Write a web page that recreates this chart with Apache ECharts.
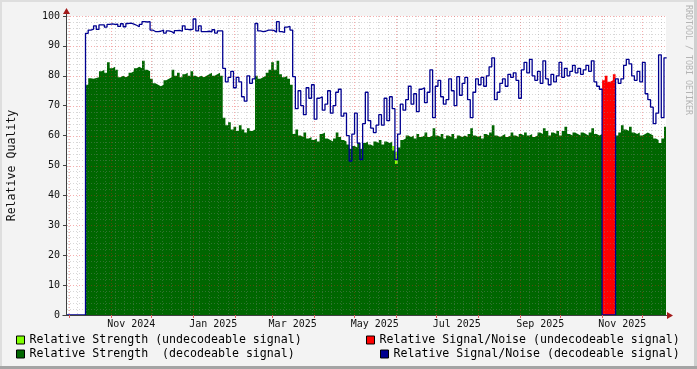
<!DOCTYPE html>
<html><head><meta charset="utf-8">
<script src="https://cdn.jsdelivr.net/npm/echarts@6/dist/echarts.min.js"></script>
<style>html,body{margin:0;padding:0;background:#f3f3f3;}#c{width:697px;height:369px;}</style>
</head><body><div id="c"></div>
<script>
// ---------------- data ----------------
const axisStart = '2024-09-28T12:00:00Z';
const axisEnd   = '2025-12-18T12:00:00Z';
const dataStart = '2024-10-13T00:00:00Z';
const stepDays = 2;
const snBeforeData = 0;

// Relative Signal/Noise (decodeable signal), one value per 2 days from dataStart
const snDecodeable = [
 94.2,95.3,95.6,96.7,95.5,97.0,97.0,96.3,97.2,97.4,
 97.2,97.3,96.5,97.4,96.4,97.5,97.6,97.3,96.9,96.4,
 97.2,98.1,98.0,98.1,95.3,94.8,94.8,94.9,95.3,94.3,
 95.0,94.8,94.2,95.1,95.2,94.9,96.7,95.5,95.4,95.6,
 99.0,95.0,96.7,94.8,94.8,94.9,94.7,95.4,94.3,95.0,
 95.0,82.5,78.0,79.5,81.5,76.0,79.5,78.0,73.0,71.5,
 80.0,77.5,79.0,97.5,95.0,94.8,94.9,95.3,95.3,95.2,
 94.6,98.1,94.8,94.5,96.3,96.5,95.3,79.7,69.0,75.0,
 70.0,67.0,76.0,72.5,77.0,65.5,72.5,73.0,68.5,70.5,
 75.0,67.5,70.0,74.5,75.5,66.5,67.5,60.0,51.5,60.5,
 67.5,57.5,52.0,64.0,74.5,65.0,62.5,61.0,63.5,67.0,
 63.5,72.5,65.0,73.0,69.0,52.0,60.5,70.5,68.5,72.0,
 76.5,70.5,74.0,68.0,75.5,76.0,71.0,74.5,82.0,66.0,
 76.5,78.5,73.0,70.5,72.0,79.0,75.0,70.0,79.7,73.5,
 77.5,79.5,72.0,66.0,74.5,79.0,77.0,79.5,76.5,80.0,
 83.0,86.0,72.0,74.5,77.5,79.0,76.5,80.5,79.5,81.0,
 78.5,72.5,82.0,84.5,81.0,85.5,80.0,78.5,81.5,77.5,
 85.0,79.0,77.0,80.5,78.0,80.0,84.5,79.5,82.5,80.0,
 81.5,83.5,81.0,82.5,80.5,82.0,83.5,81.5,85.0,78.0,
 76.5,75.5,0,0,0,0,0,79.0,77.5,79.0,
 83.5,85.5,84.0,80.0,78.5,81.5,78.0,84.5,74.0,72.0,
 69.5,64.0,67.5,87.0,66.0,86.0
];

// Relative Strength (decodeable signal), same time base
const strengthDecodeable = [
 77.0,79.2,79.0,79.3,79.5,81.5,82.0,81.0,84.5,82.5,
 83.0,82.0,79.5,80.0,79.5,80.0,81.0,81.5,82.5,83.0,
 82.5,85.0,82.0,81.5,79.0,77.5,77.0,76.5,77.0,78.5,
 79.0,79.5,82.0,80.0,81.0,79.5,80.5,81.0,80.0,81.5,
 80.0,79.5,80.0,79.5,80.0,80.5,81.0,80.0,80.5,81.0,
 80.0,66.0,63.5,64.5,62.0,63.0,61.5,63.5,62.0,61.0,
 62.5,61.5,62.0,80.0,79.0,79.5,80.0,81.0,82.0,84.5,
 82.0,85.0,80.5,79.5,80.0,79.0,77.0,60.5,62.0,60.0,
 59.5,61.0,59.0,59.5,58.5,59.0,58.0,60.5,61.0,59.0,
 58.5,58.0,59.0,61.0,59.5,58.5,58.0,57.0,55.5,56.5,
 56.0,57.5,55.5,57.5,58.0,57.0,56.5,58.0,57.5,58.5,
 57.0,58.0,57.5,58.0,55.0,50.5,56.0,58.5,59.0,60.0,
 59.5,60.0,59.0,60.5,59.5,60.0,61.0,59.5,60.0,62.5,
 60.0,59.5,60.5,59.0,60.0,59.5,60.5,59.0,60.0,59.5,
 60.0,59.5,60.5,62.5,60.0,59.5,60.0,59.0,60.5,60.0,
 61.0,63.5,60.0,59.5,60.0,60.5,59.5,60.0,61.0,60.0,
 59.5,60.5,60.0,61.0,60.0,60.5,59.5,60.0,61.0,60.5,
 62.5,61.5,60.0,61.0,60.5,61.5,60.0,61.5,63.0,60.5,
 60.0,61.0,60.5,60.0,61.0,60.5,60.0,61.0,62.5,60.5,
 60.0,60.5,0,0,0,0,0,60.0,61.0,63.5,
 62.0,61.5,63.0,61.0,60.5,61.0,60.0,60.5,61.0,60.5,
 60.0,59.0,58.5,57.5,59.0,63.0
];

// Relative Signal/Noise (undecodeable signal)
const snUndecodeableStart = '2025-11-01T00:00:00Z';
const snUndecodeable = [78.5, 80.0, 78.0, 78.5, 80.5];

// Relative Strength (undecodeable signal)
const strengthUndecodeableStart = '2025-05-29T00:00:00Z';
const strengthUndecodeable = [56.5, 54.5];

// tick labels
const xLabels = ['Nov 2024','Jan 2025','Mar 2025','May 2025','Jul 2025','Sep 2025','Nov 2025'];
const xLabelMonths = ['2024-11-01','2025-01-01','2025-03-01','2025-05-01','2025-07-01','2025-09-01','2025-11-01'];
const yMajor = [0,10,20,30,40,50,60,70,80,90,100];

const seriesNames = [
  'Relative Strength (undecodeable signal)',
  'Relative Strength  (decodeable signal)',
  'Relative Signal/Noise (undecodeable signal)',
  'Relative Signal/Noise (decodeable signal)'
];
const colors = ['#80ff00', '#006600', '#ff0000', '#000090'];

// ---------------- helpers ----------------
const DAY = 86400000;
const T = s => Date.parse(s);
function stepData(startStr, values) {
  const t0 = T(startStr);
  const pts = values.map((v, i) => [t0 + i * stepDays * DAY, v]);
  pts.push([t0 + values.length * stepDays * DAY, values[values.length - 1]]);
  return pts;
}
const MONO = 'DejaVu Sans Mono';
const labelTimes = xLabelMonths.map(m => T(m + 'T00:00:00Z') + 15 * DAY);
const monthStarts = [];
for (let k = 0; k < 15; k++) monthStarts.push(Date.UTC(2024, 9 + k, 1));

const snData = [[T(axisStart), snBeforeData]].concat(stepData(dataStart, snDecodeable));

const GL = 66, GT = 16, GW = 600, GH = 299;

const areaSeries = (name, color, data, z) => ({
  name, type: 'line', step: 'end', data, z, color,
  symbol: 'none', showSymbol: false, sampling: 'none', silent: true,
  lineStyle: { width: 0, color }, itemStyle: { color },
  areaStyle: { color, opacity: 1 }
});

const legendItem = (name, left, top) => ({
  data: [name], left, top, padding: 0, orient: 'horizontal', selectedMode: false,
  icon: 'rect', itemWidth: 8, itemHeight: 8,
  itemStyle: { borderColor: '#000', borderWidth: 1 },
  textStyle: { fontFamily: MONO, fontSize: 11.6, color: '#000' }
});

const chart = echarts.init(document.getElementById('c'));
const option = {
  animation: false,
  backgroundColor: '#f3f3f3',
  grid: { left: GL, top: GT, width: GW, height: GH, show: true, backgroundColor: '#ffffff', borderWidth: 0,
          containLabel: false, outerBoundsMode: 'none' },
  xAxis: {
    type: 'value', min: T(axisStart), max: T(axisEnd), z: 20, scale: true,
    axisLine: { show: true, lineStyle: { color: '#404040', width: 1 } },
    axisTick: { show: true, customValues: monthStarts, length: 3, lineStyle: { color: '#e06060' } },
    axisLabel: {
      customValues: labelTimes, hideOverlap: false, margin: 4,
      fontFamily: MONO, fontSize: 10, color: '#111',
      formatter: v => { const i = labelTimes.indexOf(v); return i >= 0 ? xLabels[i] : ''; }
    },
    splitLine: { show: false }
  },
  yAxis: {
    type: 'value', min: 0, max: 100, interval: 10, z: 20,
    axisLine: { show: true, lineStyle: { color: '#404040', width: 1 } },
    axisTick: { show: true, length: 3, lineStyle: { color: '#404040' } },
    axisLabel: { fontFamily: MONO, fontSize: 10, color: '#111', margin: 6 },
    splitLine: { show: false },
    name: 'Relative Quality', nameLocation: 'middle', nameGap: 48, nameRotate: 90,
    nameTextStyle: { fontFamily: MONO, fontSize: 11.6, color: '#111' }
  },
  legend: [
    legendItem(seriesNames[0], 16, 334),
    legendItem(seriesNames[1], 16, 348),
    legendItem(seriesNames[2], 366, 334),
    legendItem(seriesNames[3], 380, 348)
  ],
  series: [
    areaSeries(seriesNames[0], colors[0], stepData(strengthUndecodeableStart, strengthUndecodeable), 1),
    areaSeries(seriesNames[1], colors[1], stepData(dataStart, strengthDecodeable), 2),
    areaSeries(seriesNames[2], colors[2], stepData(snUndecodeableStart, snUndecodeable), 3),
    {
      name: seriesNames[3], type: 'line', step: 'end', data: snData, z: 10, color: colors[3],
      symbol: 'none', showSymbol: false, sampling: 'none', silent: true,
      lineStyle: { width: 1.3, color: colors[3] }, itemStyle: { color: colors[3] }
    }
  ]
};
chart.setOption(option);

// ---------- grid lines (drawn over the areas, under the S/N line) ----------
const px = t => chart.convertToPixel({ xAxisIndex: 0 }, t);
const py = v => chart.convertToPixel({ yAxisIndex: 0 }, v);
const RED = 'rgba(230,30,30,0.36)', GRAY = 'rgba(140,140,140,0.34)';
const g = [];
const x0 = px(T(axisStart)), x1 = px(T(axisEnd));
const vline = (t, color) => {
  const x = Math.floor(px(t)) + 0.5;
  g.push({ type: 'line', silent: true, z: 5, shape: { x1: x, y1: GT, x2: x, y2: GT + GH },
           style: { stroke: color, lineWidth: 1, lineDash: [1, 2] } });
};
const hline = (v, color) => {
  const y = Math.round(py(v)) + 0.5;
  g.push({ type: 'line', silent: true, z: 5, shape: { x1: x0 + 1, y1: y, x2: x1, y2: y },
           style: { stroke: color, lineWidth: 1, lineDash: [1, 2] } });
};
// weekly minor grid (Mondays)
for (let t = Date.UTC(2024, 8, 30); t <= T(axisEnd); t += 7 * DAY) {
  if (monthStarts.indexOf(t) < 0) vline(t, GRAY);
}
monthStarts.forEach(t => vline(t, RED));
for (let v = 2; v < 100; v += 2) if (v % 10 !== 0) hline(v, GRAY);
yMajor.filter(v => v > 0).forEach(v => hline(v, RED));

// frame, arrows, watermark
const ax = Math.round(x0) + 0.5;
const ay = Math.round(py(0)) + 0.5;
const ty = py(100);
g.push(
  { type: 'line', z: 30, silent: true, shape: { x1: ax, y1: ty, x2: ax, y2: ty - 3 }, style: { stroke: '#404040', lineWidth: 1 } },
  { type: 'line', z: 30, silent: true, shape: { x1: x1, y1: ay, x2: x1 + 2, y2: ay }, style: { stroke: '#404040', lineWidth: 1 } },
  { type: 'line', z: 30, silent: true, shape: { x1: ax - 4, y1: ay, x2: ax, y2: ay }, style: { stroke: '#404040', lineWidth: 1 } },
  { type: 'polygon', z: 30, silent: true, shape: { points: [[ax - 3.5, ty - 2], [ax + 3.5, ty - 2], [ax, ty - 8]] }, style: { fill: '#a31a1a' } },
  { type: 'polygon', z: 30, silent: true, shape: { points: [[x1 + 1, ay - 3.5], [x1 + 1, ay + 3.5], [x1 + 7, ay]] }, style: { fill: '#a31a1a' } },
  { type: 'text', z: 30, silent: true, x: 688.5, y: 5, rotation: -Math.PI / 2,
    style: { text: 'RRDTOOL / TOBI OETIKER', fontFamily: MONO, fontSize: 8.3, fill: '#b4b4b4', textAlign: 'left', textVerticalAlign: 'middle' } },
  { type: 'rect', z: 40, silent: true, shape: { x: 0, y: 0, width: 697, height: 2 }, style: { fill: '#dedede' } },
  { type: 'rect', z: 40, silent: true, shape: { x: 0, y: 0, width: 2, height: 369 }, style: { fill: '#dedede' } },
  { type: 'rect', z: 41, silent: true, shape: { x: 694, y: 0, width: 3, height: 369 }, style: { fill: '#cfcfcf' } },
  { type: 'rect', z: 42, silent: true, shape: { x: 0, y: 366, width: 697, height: 3 }, style: { fill: '#a4a4a4' } }
);
chart.setOption({ graphic: { elements: g } });
</script></body></html>
